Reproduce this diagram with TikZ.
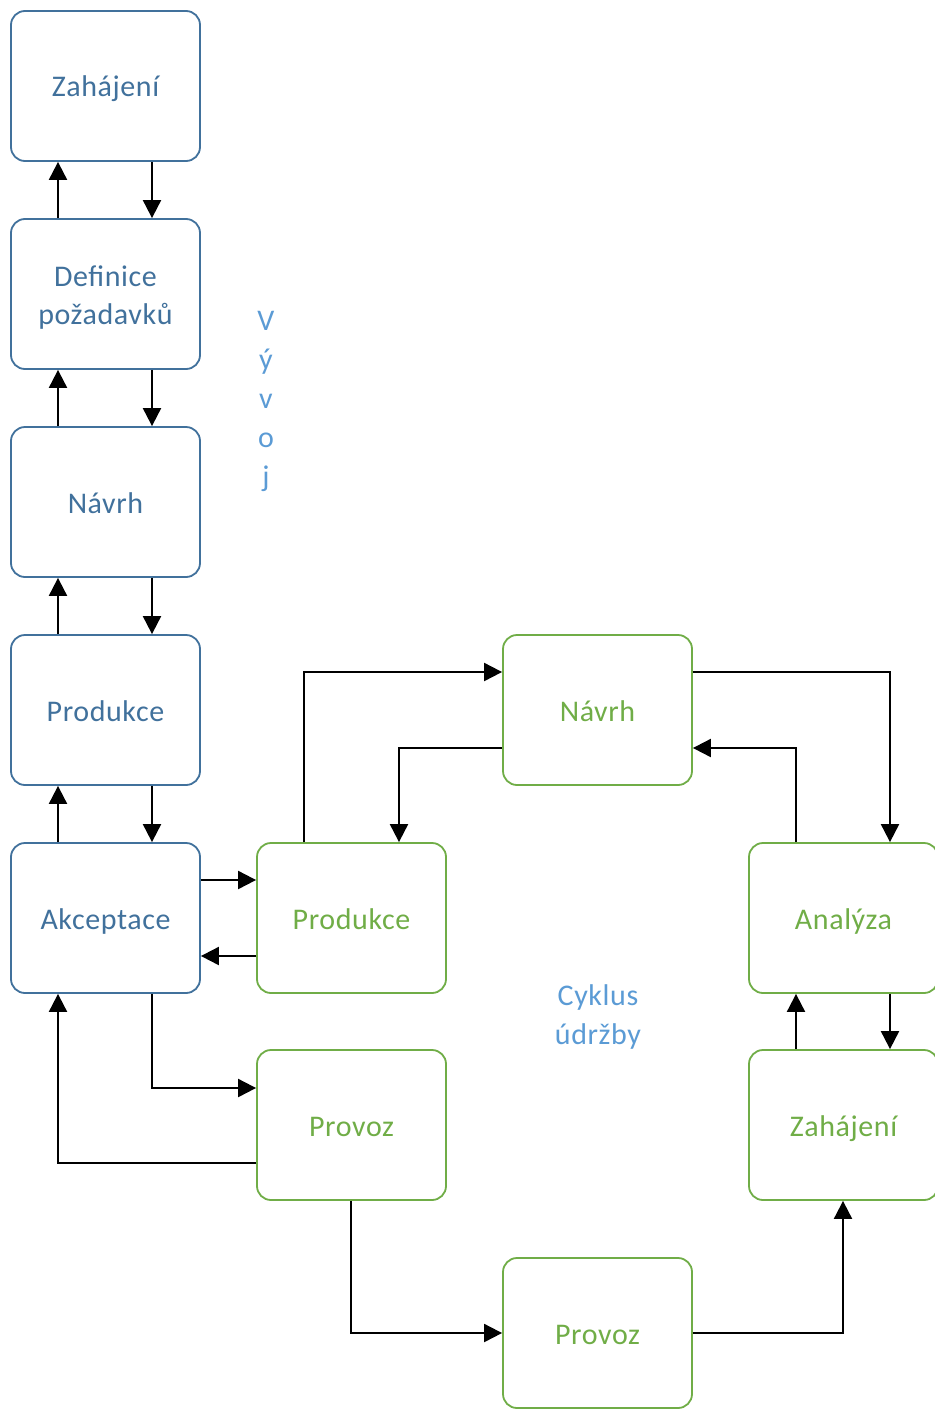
\documentclass[tikz,border=0pt]{standalone}
\usepackage{fontspec}
\setmainfont{Carlito}[LetterSpace=2]
\usetikzlibrary{arrows.meta}
\definecolor{bblue}{HTML}{41719C}
\definecolor{lblue}{HTML}{5B9BD5}
\definecolor{bgreen}{HTML}{70AD47}
\newcommand\dn[1]{\raisebox{-4pt}[\height][\depth]{#1}}
\begin{document}
\begin{tikzpicture}[x=1pt,y=-1pt,
  box/.style={draw,rounded corners=14pt,line width=1.8pt,minimum width=189pt,minimum height=150pt,inner sep=0pt,align=center,font=\fontsize{30}{38}\selectfont},
  one/.style={text height=21pt,text depth=7pt},
  bbox/.style={box,draw=bblue,text=bblue},
  gbox/.style={box,draw=bgreen,text=bgreen},
  arr/.style={line width=2pt,-{Triangle[width=18pt,length=18pt]}},
  lab/.style={text=lblue,font=\fontsize{30}{39}\selectfont,align=center,inner sep=0pt}]
\useasboundingbox (0,0) rectangle (934,1410);
\node[bbox,one] (z1) at (105.5,86) {\dn{Zahájení}};
\node[bbox] (d1) at (105.5,294) {\dn{Definice}\\\dn{požadavků}};
\node[bbox,one] (n1) at (105.5,502) {\dn{Návrh}};
\node[bbox,one] (p1) at (105.5,710) {\dn{Produkce}};
\node[bbox,one] (a1) at (105.5,918) {\dn{Akceptace}};
\node[gbox,one] (p2) at (351.5,918) {\dn{Produkce}};
\node[gbox,one] (o2) at (351.5,1125) {\dn{Provoz}};
\node[gbox,one] (n2) at (597.5,710) {\dn{Návrh}};
\node[gbox,one] (a2) at (843.5,918) {\dn{Analýza}};
\node[gbox,one] (z2) at (843.5,1125) {\dn{Zahájení}};
\node[gbox,one] (o3) at (597.5,1333) {\dn{Provoz}};
\node[lab] (vv) at (266,401) {V\\ý\\v\\o\\j};
\node[lab] (cy) at (598,1017) {Cyklus\\údržby};
% blue column
\foreach \u/\l in {z1/d1,d1/n1,n1/p1,p1/a1}{
  \draw[arr] (\l.north -| 58,0) -- (\u.south -| 58,0);
  \draw[arr] (\u.south -| 152,0) -- (\l.north -| 152,0);
}
\draw[arr] (a1.east |- 0,880) -- (p2.west |- 0,880);
\draw[arr] (p2.west |- 0,956) -- (a1.east |- 0,956);
\draw[arr] (a1.south -| 152,0) |- (o2.west |- 0,1088);
\draw[arr] (o2.west |- 0,1163) -| (a1.south -| 58,0);
\draw[arr] (p2.north -| 304,0) |- (n2.west |- 0,672);
\draw[arr] (n2.west |- 0,748) -| (p2.north -| 399,0);
\draw[arr] (n2.east |- 0,672) -| (a2.north -| 890,0);
\draw[arr] (a2.north -| 796,0) |- (n2.east |- 0,748);
\draw[arr] (a2.south -| 890,0) -- (z2.north -| 890,0);
\draw[arr] (z2.north -| 796,0) -- (a2.south -| 796,0);
\draw[arr] (o2.south -| 351,0) |- (o3.west |- 0,1333);
\draw[arr] (o3.east |- 0,1333) -| (z2.south -| 843,0);
\end{tikzpicture}
\end{document}
